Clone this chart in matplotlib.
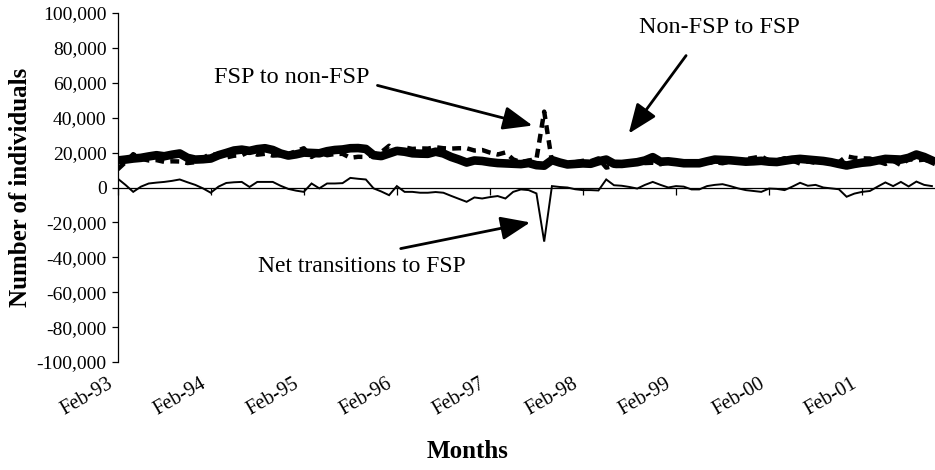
import matplotlib
matplotlib.use("Agg")
import matplotlib.pyplot as plt
from matplotlib.transforms import ScaledTranslation

plt.rcParams['font.family'] = ['Liberation Serif', 'DejaVu Serif']

# Monthly data, Feb-93 onward (thousands of individuals)
non_fsp_to_fsp = [15.5, 16.0, 16.6, 17.0, 17.8, 18.5, 17.9, 18.8, 19.5, 17.0,
                  16.0, 16.2, 16.6, 18.5, 19.8, 21.2, 21.7, 21.0, 22.0, 22.5,
                  21.5, 19.5, 18.3, 19.0, 20.0, 19.8, 19.6, 20.8, 21.5, 21.8,
                  22.5, 22.6, 22.1, 18.5, 18.0, 19.5, 21.0, 20.5, 19.6, 19.4,
                  19.3, 20.5, 19.5, 17.5, 16.0, 14.3, 15.5, 15.2, 14.5, 14.0,
                  13.8, 13.6, 13.4, 14.0, 12.8, 12.5, 15.7, 14.3, 13.2, 13.5,
                  13.8, 13.6, 15.0, 16.0, 13.6, 13.5, 14.0, 14.5, 15.5, 17.4,
                  14.8, 15.0, 14.5, 13.9, 13.9, 13.9, 15.0, 16.0, 15.8, 15.6,
                  15.2, 14.8, 15.0, 15.3, 14.8, 14.6, 15.3, 16.0, 16.4, 16.0,
                  15.6, 15.2, 14.5, 13.5, 12.6, 13.5, 14.2, 14.6, 15.5, 16.4,
                  16.2, 16.0, 17.0, 18.9, 17.5, 15.5]
fsp_to_non_fsp = [10.4, 14.5, 19.1, 16.5, 15.5, 15.7, 14.7, 15.0, 14.9, 14.0,
                  14.5, 16.7, 19.6, 18.0, 17.2, 18.2, 18.5, 20.7, 18.8, 19.3,
                  18.3, 18.5, 19.1, 20.8, 22.5, 17.5, 20.1, 18.5, 19.2, 19.3,
                  17.0, 17.6, 17.5, 19.0, 20.3, 23.9, 20.2, 23.0, 22.1, 22.4,
                  22.3, 23.1, 22.5, 22.3, 22.5, 22.5, 21.2, 21.5, 20.0, 18.9,
                  20.1, 16.1, 14.5, 15.5, 16.2, 43.5, 14.9, 14.0, 13.2, 14.5,
                  15.3, 15.1, 16.7, 11.4, 12.3, 12.5, 13.7, 15.1, 14.0, 14.2,
                  13.3, 15.0, 13.7, 13.4, 15.0, 15.0, 14.2, 14.5, 13.9, 14.8,
                  15.7, 16.3, 17.0, 17.8, 15.4, 15.4, 16.8, 15.5, 13.7, 15.0,
                  14.1, 15.2, 15.0, 14.5, 17.9, 17.0, 16.7, 16.6, 15.0, 13.5,
                  15.4, 12.8, 16.4, 15.5, 16.0, 14.7]
net_to_fsp = [5.1, 1.5, -2.5, 0.5, 2.3, 2.8, 3.2, 3.8, 4.6, 3.0,
              1.5, -0.5, -3.0, 0.5, 2.6, 3.0, 3.2, 0.3, 3.2, 3.2,
              3.2, 1.0, -0.8, -1.8, -2.5, 2.3, -0.5, 2.3, 2.3, 2.5,
              5.5, 5.0, 4.6, -0.5, -2.3, -4.4, 0.8, -2.5, -2.5, -3.0,
              -3.0, -2.6, -3.0, -4.8, -6.5, -8.2, -5.7, -6.3, -5.5, -4.9,
              -6.3, -2.5, -1.1, -1.5, -3.4, -31.0, 0.8, 0.3, 0.0, -1.0,
              -1.5, -1.5, -1.7, 4.6, 1.3, 1.0, 0.3, -0.6, 1.5, 3.2,
              1.5, 0.0, 0.8, 0.5, -1.1, -1.1, 0.8, 1.5, 1.9, 0.8,
              -0.5, -1.5, -2.0, -2.5, -0.6, -0.8, -1.5, 0.5, 2.7, 1.0,
              1.5, 0.0, -0.5, -1.0, -5.3, -3.5, -2.5, -2.0, 0.5, 2.9,
              0.8, 3.2, 0.6, 3.4, 1.5, 0.8]

tick_labels = ['Feb-93', 'Feb-94', 'Feb-95', 'Feb-96', 'Feb-97', 'Feb-98',
               'Feb-99', 'Feb-00', 'Feb-01']
y_ticks = [100000, 80000, 60000, 40000, 20000, 0, -20000, -40000, -60000,
           -80000, -100000]

months = list(range(len(non_fsp_to_fsp)))
inflow = [v * 1000 for v in non_fsp_to_fsp]
outflow = [v * 1000 for v in fsp_to_non_fsp]
net = [v * 1000 for v in net_to_fsp]

fig = plt.figure(figsize=(9.35, 4.70), dpi=100)
ax = fig.add_axes([117.7 / 935, 1 - 362 / 470, (935 - 117.7) / 935, (362 - 13) / 470])

ax.plot(months, net, color='black', lw=1.4, zorder=3, solid_joinstyle='miter')
ax.plot(months, outflow, color='black', lw=3.2, linestyle=(0, (2.0, 1.4)),
        zorder=2, dash_capstyle='butt')
ax.plot(months, inflow, color='black', lw=6.2, zorder=4, solid_joinstyle='round')

ax.set_xlim(0, 105.4)
ax.set_ylim(-100000, 100000)

for s in ['top', 'right']:
    ax.spines[s].set_visible(False)
ax.spines['left'].set_linewidth(0.9)
ax.spines['bottom'].set_position(('data', 0))
ax.spines['bottom'].set_linewidth(0.9)

ax.set_yticks(y_ticks, labels=[f'{v:,}' for v in y_ticks])
ax.tick_params(axis='y', direction='out', length=4, width=0.9, pad=4,
               labelsize=14)

# tick marks on the zero line
tick_pos = list(range(0, 12 * len(tick_labels), 12))
ax.set_xticks(tick_pos)
ax.tick_params(axis='x', direction='out', length=5, width=0.9, labelbottom=False)

# tick labels at the bottom of the plot area
lab = ax.secondary_xaxis('bottom')
lab.set_xticks(tick_pos, labels=tick_labels)
lab.spines['bottom'].set_visible(False)
lab.tick_params(axis='x', length=0, pad=15, labelsize=14.5)
for lbl in lab.get_xticklabels():
    lbl.set_rotation(30)
    lbl.set_ha('right')
    lbl.set_va('center')
    lbl.set_rotation_mode('anchor')
    lbl.set_transform(lbl.get_transform() + ScaledTranslation(-6 / 100, 0, fig.dpi_scale_trans))

fig.text(468 / 935, 1 - 452 / 470, 'Months', fontsize=18, fontweight='bold',
         ha='center', va='center')
ax.set_ylabel('Number of individuals', fontsize=18, fontweight='bold')
ax.yaxis.set_label_coords((20 - 117.7) / (935 - 117.7), 0.5)
ax.yaxis.label.set_va('center')

arrow = dict(arrowstyle='-|>,head_length=1.0,head_width=0.4', color='black',
             lw=2.0, shrinkA=0, shrinkB=0, mutation_scale=18)
ax.text(77.6, 91700, 'Non-FSP to FSP', ha='center', va='center', fontsize=17.5)
ax.annotate('', xy=(65.9, 30900), xytext=(73.3, 75600), arrowprops=arrow)
ax.text(22.5, 63000, 'FSP to non-FSP', ha='center', va='center', fontsize=17.5)
ax.annotate('', xy=(53.5, 35500), xytext=(33.5, 58500), arrowprops=arrow)
ax.text(31.5, -45300, 'Net transitions to FSP', ha='center', va='center', fontsize=17)
ax.annotate('', xy=(53.2, -20000), xytext=(36.5, -35000), arrowprops=arrow)

fig.savefig('out.png', dpi=100)
